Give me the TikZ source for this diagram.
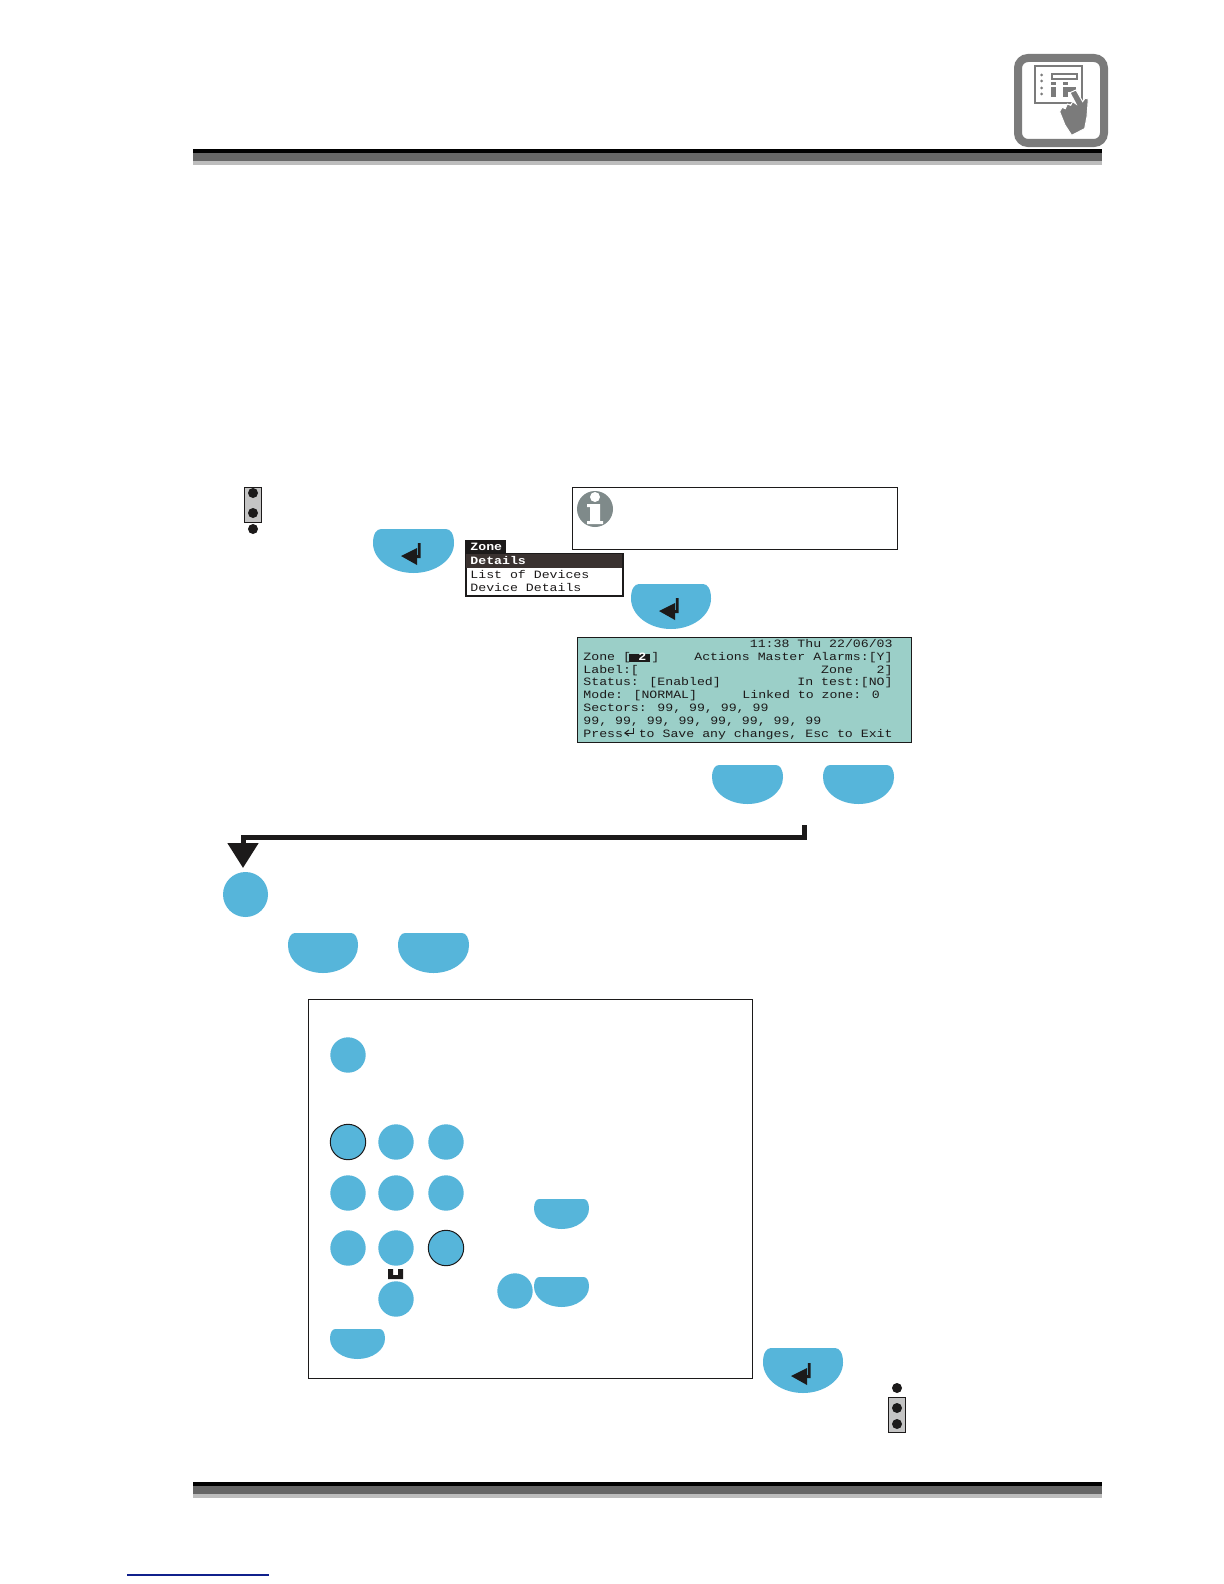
\documentclass[tikz,border=0pt]{standalone}
\usepackage{fontspec}
\usetikzlibrary{arrows.meta,shapes.geometric}
\newfontfamily\lcdfont[FakeStretch=1.18]{Liberation Mono}
\definecolor{keyblue}{HTML}{56B5DA}
\definecolor{ink}{HTML}{1C1A1A}
\definecolor{menubar}{HTML}{3A3230}
\definecolor{lcdbg}{HTML}{9BCFC8}
\definecolor{icongrey}{HTML}{7B7B7B}
\definecolor{infogrey}{HTML}{7F8A8A}
\definecolor{barmid}{HTML}{666666}
\definecolor{barlight}{HTML}{BDBDBD}
\definecolor{jumpergrey}{HTML}{C4C4C4}
\definecolor{linkblue}{HTML}{10208C}
\tikzset{
  roundkey/.style={circle,fill=keyblue,minimum size=17.7pt,inner sep=0pt},
  ringkey/.style={roundkey,draw=ink,line width=0.5pt},
  lcdleft/.style={font=\lcdfont\fontsize{5.6}{6}\selectfont,text=ink,inner sep=0pt,anchor=base west},
  lcdright/.style={font=\lcdfont\fontsize{5.6}{6}\selectfont,text=ink,inner sep=0pt,anchor=base east},
  menubold/.style={font=\lcdfont\bfseries\fontsize{5.6}{6}\selectfont,text=white,inner sep=0pt,anchor=base west},
  thinbox/.style={draw=ink,line width=0.5pt,fill=white},
}
\newcommand{\halfkey}[4]{%
  \begin{scope}[shift={(#1,#2)},xscale=#3,yscale=#4]
    \fill[keyblue] (0.1,0) -- (0.9,0) .. controls (0.96,0) and (1,0.12) .. (1,0.32)
      .. controls (1,0.7) and (0.77,1) .. (0.5,1)
      .. controls (0.23,1) and (0,0.7) .. (0,0.32)
      .. controls (0,0.12) and (0.04,0) .. (0.1,0) -- cycle;
  \end{scope}}
\newcommand{\enterglyph}[2]{%
  \begin{scope}[shift={(#1,#2)}]
    \fill[ink] (0,0) -- (16,-8) -- (16,9) -- cycle;
    \fill[ink] (16,2) -- (19.5,2) -- (19.5,-13) -- (16.8,-13) -- (16.8,-1) -- (16,-1) -- cycle;
  \end{scope}}
\newcommand{\rulebar}[1]{%
  \fill[black] (193,#1) rectangle (1102,#1+4);
  \fill[barmid] (193,#1+4) rectangle (1102,#1+12);
  \fill[barlight] (193,#1+12) rectangle (1102,#1+16);}
\newcommand{\jumper}[2]{%
  \draw[fill=jumpergrey,draw=ink,line width=0.5pt] (#1-9,#2) rectangle (#1+8.5,#2+35);}
\begin{document}
\begin{tikzpicture}[x=0.5pt,y=-0.5pt]
\useasboundingbox (0,0) rectangle (1224,1584);
\fill[white] (0,0) rectangle (1224,1584);
% rules
\rulebar{149}
\rulebar{1482}
\draw[linkblue,line width=0.6pt] (127,1575) -- (269,1575);
% corner icon
\draw[icongrey,line width=4pt,rounded corners=5pt] (1018,58) rectangle (1104,143);
\draw[icongrey,line width=0.8pt,fill=white] (1035,66) rectangle (1082,103);
\draw[icongrey,line width=1pt] (1052,74) rectangle (1077,79);
\foreach \dy in {75,81,88,94} \fill[icongrey] (1041.5,\dy) circle (1.5);
\fill[icongrey] (1051,82) rectangle (1056,85);
\fill[icongrey] (1051,87) rectangle (1056,97);
\fill[icongrey] (1063,82) rectangle (1068,85);
\fill[icongrey] (1063,87) rectangle (1068,97);
\fill[icongrey] (1068,87) rectangle (1076,92);
\begin{scope}[shift={(990,30)},xscale=0.3333,yscale=0.3333]
  \fill[icongrey,draw=white,line width=0.5pt] (240,188) -- (258,180) -- (278,215) -- (285,205) -- (295,207) -- (291,260) -- (284,296)
    -- (245,316) -- (225,285) -- (209,245) -- (216,232) -- (226,236) -- (232,222) -- (242,226) -- (248,215) -- (258,222) -- cycle;
\end{scope}
% top jumper
\jumper{253}{487}
\foreach \dy in {493,513,529} \fill[ink] (253,\dy) circle (5);
% enter keys
\halfkey{373}{529}{81}{44}
\enterglyph{401}{556}
\halfkey{631}{584}{80}{45}
\enterglyph{659}{611}
\halfkey{763}{1348}{80}{45}
\enterglyph{791}{1376}
% menu
\fill[ink] (465,540) rectangle (506,554);
\draw[thinbox,line width=1pt] (465.5,553.5) rectangle (622.5,595.5);
\fill[menubar] (466,554) rectangle (622,568);
\node[menubold] (mzone) at (470,550) {Zone};
\node[menubold] (mdet) at (470,564) {Details};
\node[lcdleft] (mlist) at (470,578) {List of Devices};
\node[lcdleft] (mdev) at (470,591) {Device Details};
% note box
\draw[thinbox] (572,487) rectangle (897,549);
\fill[infogrey] (595,509) circle (18);
\fill[white] (595,497) circle (5);
\fill[white] (587,504) -- (600,504) -- (600,521) -- (603,521) -- (603,524) -- (587,524) -- (587,521) -- (590,521) -- (590,507) -- (587,507) -- cycle;
% lcd
\draw[draw=ink,line width=0.5pt,fill=lcdbg] (577,637) rectangle (911,742);
\fill[ink] (629,654) rectangle (650,662);
\node[lcdright] (l1) at (893,647) {11:38 Thu 22/06/03};
\node[lcdleft] (l2a) at (583,660) {Zone [};
\node[menubold] (l2b) at (638,660) {2};
\node[lcdleft] (l2c) at (651,660) {]};
\node[lcdright] (l2d) at (893,660) {Actions Master Alarms:[Y]};
\node[lcdleft] (l3a) at (583,673) {Label:[};
\node[lcdright] (l3b) at (893,673) {Zone~~~2]};
\node[lcdleft] (l4a) at (583,685) {Status: [Enabled]};
\node[lcdright] (l4b) at (893,685) {In test:[NO]};
\node[lcdleft] (l5a) at (583,698) {Mode: [NORMAL]};
\node[lcdleft] (l5b) at (742,698) {Linked to zone: 0};
\node[lcdleft] (l6) at (583,711) {Sectors: 99, 99, 99, 99};
\node[lcdleft] (l7) at (583,724) {99, 99, 99, 99, 99, 99, 99, 99};
\node[lcdleft] (l8a) at (583,737) {Press};
\node[lcdright] (l8b) at (893,737) {to Save any changes, Esc to Exit};
\draw[ink,line width=0.5pt,-{Straight Barb[length=2pt,width=3pt]}] (633,728) -- (633,733) -- (624,733);
% plain keys
\halfkey{712}{765}{71}{39}
\halfkey{823}{765}{71}{39}
\halfkey{288}{933}{70}{40}
\halfkey{398}{933}{71}{40}
% connector
\node[ellipse,fill=keyblue,minimum width=22.5pt,minimum height=22.5pt,inner sep=0pt] (stepdot) at (245.5,894.5) {};
\coordinate (stub) at (804,825);
\coordinate (tip) at (243,868);
\draw[ink,line width=2.5pt,-{Triangle[width=15pt,length=12.5pt]}] (stub) |- (tip |- 0,837) -- (tip);
% dialog
\draw[thinbox] (308,999) rectangle (752,1378);
\node[roundkey] (k0) at (348,1055) {};
\node[ringkey] (k1) at (348,1142) {};
\node[roundkey] (k2) at (396,1142) {};
\node[roundkey] (k3) at (446,1142) {};
\node[roundkey] (k4) at (348,1193) {};
\node[roundkey] (k5) at (396,1193) {};
\node[roundkey] (k6) at (446,1193) {};
\node[roundkey] (k7) at (348,1248) {};
\node[roundkey] (k8) at (396,1248) {};
\node[ringkey] (k9) at (446,1248) {};
\node[roundkey] (k10) at (396,1299) {};
\node[roundkey] (k11) at (515,1291) {};
\fill[ink] (388,1269) -- (393,1269) -- (393,1275) -- (398,1275) -- (398,1269) -- (403,1269) -- (403,1279) -- (388,1279) -- cycle;
\halfkey{534}{1199}{55}{30}
\halfkey{534}{1277}{55}{30}
\halfkey{330}{1329}{55}{30}
% bottom jumper
\jumper{897}{1397}
\foreach \dy in {1388,1408,1424} \fill[ink] (897,\dy) circle (5);
\end{tikzpicture}
\end{document}
